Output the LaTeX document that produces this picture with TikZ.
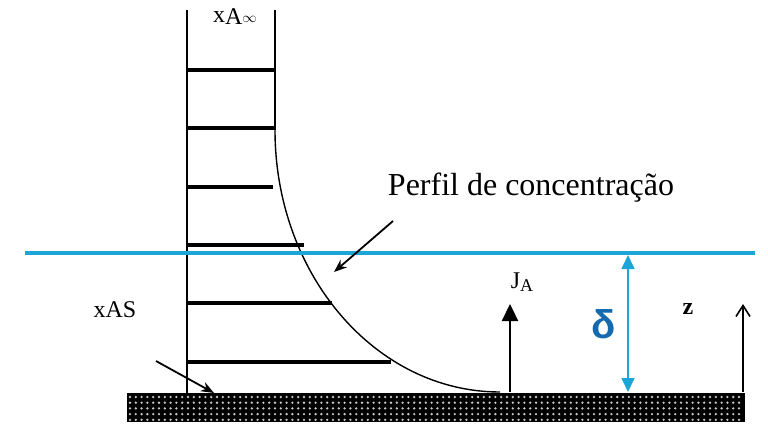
\documentclass[tikz,border=0pt]{standalone}
\usepackage{fontspec}
\setmainfont{Liberation Serif}
\newfontfamily\deltafont{Liberation Sans}
\usetikzlibrary{arrows.meta}
\definecolor{lblue}{RGB}{30,165,215}
\definecolor{dblue}{RGB}{20,105,175}
\begin{document}
\begin{tikzpicture}[x=1pt,y=-1pt,
  wall/.style={line width=2.2pt},
  bar/.style={line width=3.6pt},
  lbl/.style={font=\fontsize{24}{26}\selectfont, inner sep=0pt},
  pointer/.style={line width=1.8pt,-{Stealth[length=13pt,width=10pt]}}]
\useasboundingbox (0,0) rectangle (768,426);
% ground
\fill[black] (127,393) rectangle (745,422);
\foreach \i in {0,...,105}{
  \foreach \j in {0,...,4}{
    \fill[gray!45] ({130+\i*5.8},{397+\j*5.7}) circle (1.3pt);
  }
}
% walls
\coordinate (lt) at (187,10);
\coordinate (lb) at (187,393);
\coordinate (rt) at (275,10);
\coordinate (rc) at (275,130);
\draw[wall] (lt) -- (lb);
\draw[wall] (rt) -- (rc);
% bars
\draw[bar] (187,70) -- (275,70);
\draw[bar] (187,128) -- (275,128);
\draw[bar] (187,187) -- (273,187);
\draw[bar] (187,245) -- (304,245);
\draw[bar] (187,303) -- (332,303);
\draw[bar] (187,362) -- (391,362);
% profile curve: quarter ellipse
\coordinate (ce) at (500,392);
\draw[line width=1.4pt] (rc) arc[start angle=180,end angle=90,x radius=225,y radius=262];
% blue line
\coordinate (bl) at (25,253);
\coordinate (br) at (755,253);
\draw[lblue,line width=3.4pt] (bl) -- (br);
% delta arrow
\coordinate (dt) at (628,255);
\coordinate (db) at (628,392);
\draw[lblue,line width=1.6pt,{Triangle[length=14pt,width=13pt]}-{Triangle[length=14pt,width=13pt]}] (dt) -- (db);
\node[inner sep=0pt,text=dblue,font=\deltafont\bfseries\fontsize{40}{42}\selectfont] (delta) at (604,324) {δ};
% J_A arrow
\coordinate (jb) at (510,392);
\coordinate (jt) at (510,304);
\draw[line width=2.2pt,-{Triangle[length=17pt,width=16pt]}] (jb) -- (jt);
\node[lbl] (ja) at (522,282) {J\raisebox{-3pt}{\fontsize{18}{19}\selectfont A}};
% z arrow
\coordinate (zb) at (743,392);
\coordinate (zt) at (743,304);
\draw[line width=1.6pt,-{Straight Barb[length=11pt,width=14pt]}] (zb) -- (zt);
\node[lbl,font=\bfseries\fontsize{24}{26}\selectfont] (z) at (688,309) {z};
% labels
\node[lbl] (xinf) at (235,17) {x\raisebox{-2pt}{A}{\fontsize{14}{15}\selectfont$\infty$}};
\node[lbl] (xas) at (115,310) {xAS};
\coordinate (xasa) at (156,361);
\coordinate (xasb) at (214,393);
\draw[pointer] (xasa) -- (xasb);
\node[font=\fontsize{32}{36}\selectfont, inner sep=0pt] (perfil) at (531,188) {Perfil de concentração};
\coordinate (pa) at (393,221);
\coordinate (pb) at (334,272);
\draw[pointer] (pa) -- (pb);
\end{tikzpicture}
\end{document}
